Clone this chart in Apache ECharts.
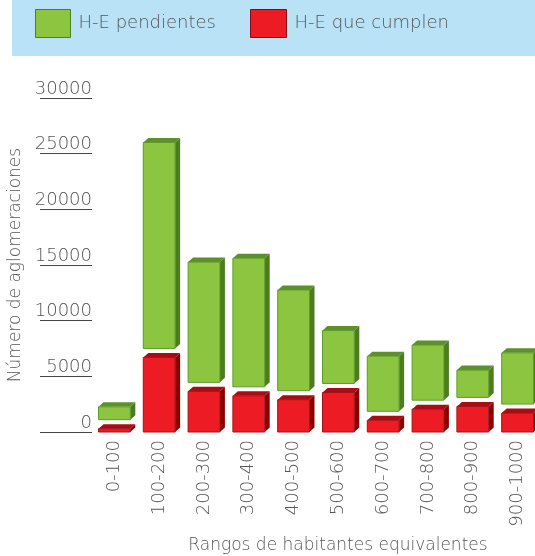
<!DOCTYPE html>
<html>
<head>
<meta charset="utf-8">
<script src="https://cdn.jsdelivr.net/npm/echarts@6/dist/echarts.min.js"></script>
<style>
    html, body { margin: 0; padding: 0; background: #fff; }
    #chart { width: 535px; height: 556px; }
</style>
</head>
<body>
<div id="chart"></div>
<script>
// rangos y valores
var rangos = ['0-100', '100-200', '200-300', '300-400', '400-500', '500-600', '600-700', '700-800', '800-900', '900-1000'];
var cumplen = [300, 6700, 3650, 3250, 2900, 3550, 1050, 2050, 2300, 1700];
var pendientes = [1150, 18500, 10800, 11550, 9050, 4750, 4950, 4950, 2450, 4600];
var ejeY = [0, 5000, 10000, 15000, 20000, 25000, 30000];

var FONT = 'DejaVu Sans';
var PESO = 200;
var GRIS = '#555';

var verde = { front: '#8cc540', border: '#5f9a2c', top: '#5d8f2a', side: '#4b7c1e' };
var rojo = { front: '#ed1c24', border: '#a3121a', top: '#a80d12', side: '#8a0000' };

// dibuja una barra con cara frontal, superior y lateral
function caja(api, i, v, baseY, col) {
    var c = api.coord([i, 0]);
    var bw = api.size([1, 0])[0] * 0.71;
    var h = api.size([0, v])[1];
    var dx = 5, dy = 4.5;
    var x0 = c[0] - bw / 2, x1 = c[0] + bw / 2;
    var yb = baseY, yt = baseY - h;
    return {
        type: 'group',
        children: [
            { type: 'polygon', shape: { points: [[x1, yt], [x1 + dx, yt - dy], [x1 + dx, yb - dy], [x1, yb]] },
              style: { fill: col.side } },
            { type: 'polygon', shape: { points: [[x0, yt], [x1, yt], [x1 + dx, yt - dy], [x0 + dx, yt - dy]] },
              style: { fill: col.top } },
            { type: 'rect', shape: { x: x0, y: yt, width: bw, height: h },
              style: { fill: col.front, stroke: col.border, lineWidth: 1 } }
        ]
    };
}

var datosRojo = cumplen.map(function (v, i) { return [i, v]; });
var datosVerde = pendientes.map(function (v, i) { return [i, v, cumplen[i]]; });

var chart = echarts.init(document.getElementById('chart'));
chart.setOption({
    animation: false,
    textStyle: { fontFamily: FONT },
    graphic: [{
        type: 'rect', left: 12, top: 0, z: -10,
        shape: { width: 523, height: 56 },
        style: { fill: '#bae2f7' }
    }],
    legend: [{
        left: 35, top: 9, padding: 0,
        itemWidth: 35, itemHeight: 28,
        icon: 'rect',
        data: [{ name: 'H-E pendientes', itemStyle: { color: verde.front, borderColor: '#4f7f24', borderWidth: 1 } }],
        textStyle: { fontFamily: FONT, fontSize: 18, fontWeight: PESO, color: GRIS, padding: [0, 0, 0, 3] }
    }, {
        left: 250, top: 9, padding: 0,
        itemWidth: 36, itemHeight: 28,
        icon: 'rect',
        data: [{ name: 'H-E que cumplen', itemStyle: { color: rojo.front, borderColor: '#8a0a10', borderWidth: 1 } }],
        textStyle: { fontFamily: FONT, fontSize: 18, fontWeight: PESO, color: GRIS, padding: [0, 0, 0, 3] }
    }],
    grid: { left: 92, right: -5, top: 98, bottom: 124, containLabel: false, outerBoundsMode: 'none' },
    xAxis: {
        type: 'category',
        data: rangos,
        axisLine: { show: false },
        axisTick: { show: false },
        axisLabel: { rotate: 90, interval: 0, margin: 8, color: GRIS, fontSize: 18, fontWeight: PESO, fontFamily: FONT },
        name: 'Rangos de habitantes equivalentes',
        nameLocation: 'middle',
        nameGap: 105,
        nameTextStyle: { color: GRIS, fontSize: 17, fontWeight: PESO, fontFamily: FONT, padding: [0, 0, 0, 44] }
    },
    yAxis: {
        type: 'value',
        min: ejeY[0],
        max: ejeY[ejeY.length - 1],
        interval: ejeY[1] - ejeY[0],
        axisLine: { show: false },
        axisTick: { show: true, length: 52, lineStyle: { color: '#444', width: 1 } },
        splitLine: { show: false },
        axisLabel: { margin: 0, color: GRIS, fontSize: 18, fontWeight: PESO, fontFamily: FONT,
                     verticalAlign: 'bottom', padding: [0, 0, 0, 0],
                     formatter: function (v) { return String(v); } },
        name: 'Número de aglomeraciones',
        nameLocation: 'middle',
        nameRotate: 90,
        nameGap: 55,
        nameTextStyle: { color: GRIS, fontSize: 17, fontWeight: PESO, fontFamily: FONT }
    },
    series: [{
        name: 'H-E que cumplen',
        type: 'custom',
        itemStyle: { color: rojo.front },
        data: datosRojo,
        renderItem: function (params, api) {
            var i = api.value(0);
            var y0 = api.coord([i, 0])[1];
            return caja(api, i, api.value(1), y0, rojo);
        }
    }, {
        name: 'H-E pendientes',
        type: 'custom',
        itemStyle: { color: verde.front },
        data: datosVerde,
        renderItem: function (params, api) {
            var i = api.value(0);
            var yRojo = api.coord([i, api.value(2)])[1];
            return caja(api, i, api.value(1), yRojo - 9, verde);
        }
    }]
});
</script>
</body>
</html>
